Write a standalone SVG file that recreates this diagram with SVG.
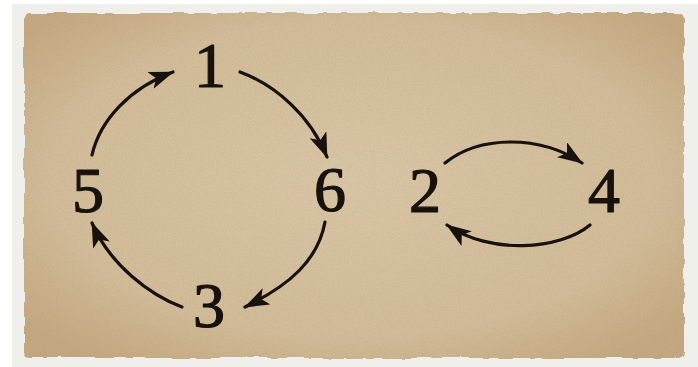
<svg xmlns="http://www.w3.org/2000/svg" width="698" height="367" viewBox="0 0 698 367">
  <style>
    .num { font-family: "Liberation Serif", "Times New Roman", serif; font-size: 64px; fill: #17120d; stroke: #17120d; stroke-width: 1.2; stroke-linejoin: round; text-anchor: middle; }
    .edge { fill: none; stroke: #17120d; stroke-width: 3.2; stroke-linecap: round; marker-end: url(#arrow); }
  </style>
  <defs>
    <marker id="arrow" markerUnits="userSpaceOnUse" markerWidth="28" markerHeight="20" refX="24" refY="9" orient="auto">
      <path d="M0,0 L25,9 L0,18 L6,9 z" fill="#17120d"/>
    </marker>
    <radialGradient id="paper" cx="50%" cy="48%" r="65%">
      <stop offset="0" stop-color="#d9c6a6"/>
      <stop offset="0.7" stop-color="#d2bc99"/>
      <stop offset="1" stop-color="#c4a881"/>
    </radialGradient>
    <filter id="rough" x="-5%" y="-5%" width="110%" height="110%">
      <feTurbulence type="fractalNoise" baseFrequency="0.06" numOctaves="2" seed="3" result="t"/>
      <feDisplacementMap in="SourceGraphic" in2="t" scale="5" xChannelSelector="R" yChannelSelector="G"/>
    </filter>
    <filter id="grain" x="0" y="0" width="100%" height="100%">
      <feTurbulence type="fractalNoise" baseFrequency="0.7" numOctaves="2" seed="7" result="n"/>
      <feColorMatrix in="n" type="matrix" values="0 0 0 0 0.35  0 0 0 0 0.25  0 0 0 0 0.15  0 0 0 -1.6 1.0" result="g"/>
      <feComposite in="g" in2="SourceGraphic" operator="in"/>
    </filter>
  </defs>
  <rect x="0" y="0" width="698" height="367" fill="#ffffff"/>
  <rect x="12" y="4" width="686" height="363" fill="#efefec"/>
  <g id="paper-sheet" filter="url(#rough)">
    <rect x="24" y="13" width="660" height="345" rx="6" fill="url(#paper)"/>
    <rect x="24" y="13" width="660" height="345" rx="6" fill="#000" opacity="0.2" filter="url(#grain)"/>
  </g>
  <g id="connectors">
    <path class="edge" d="M92,155 C100,120 130,88 173,72"/>
    <path class="edge" d="M240,72 C275,85 310,115 327,157"/>
    <path class="edge" d="M325,222 C318,260 290,285 245,307"/>
    <path class="edge" d="M182,307 C150,295 110,265 92,223"/>
    <path class="edge" d="M445,163 C480,135 540,135 582,163"/>
    <path class="edge" d="M590,225 C560,250 490,255 447,225"/>
  </g>
  <g id="node-1"><text class="num" x="210" y="87">1</text></g>
  <g id="node-5"><text class="num" x="88" y="212">5</text></g>
  <g id="node-6"><text class="num" x="330" y="211">6</text></g>
  <g id="node-3"><text class="num" x="209" y="327">3</text></g>
  <g id="node-2"><text class="num" x="425" y="212">2</text></g>
  <g id="node-4"><text class="num" x="604" y="212">4</text></g>
</svg>
